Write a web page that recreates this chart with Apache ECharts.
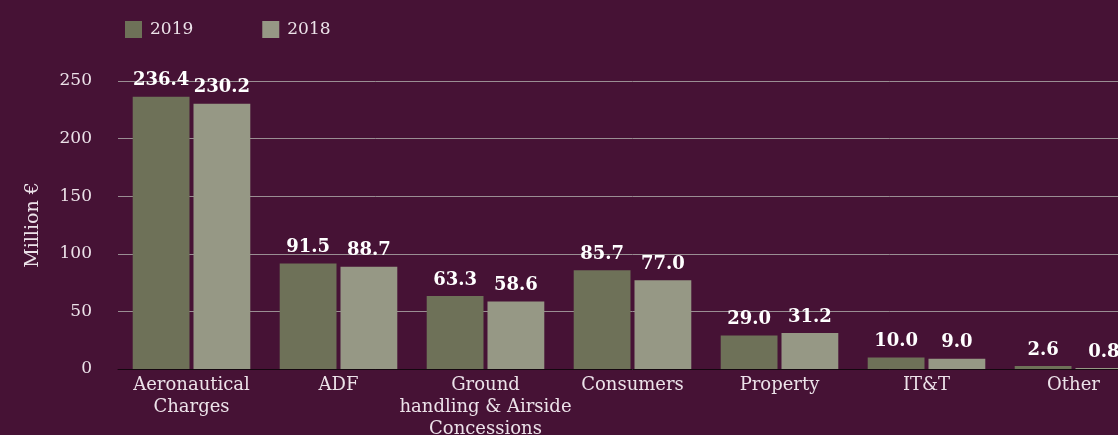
<!DOCTYPE html>
<html>
<head>
<meta charset="utf-8">
<script src="https://cdn.jsdelivr.net/npm/echarts@6/dist/echarts.min.js"></script>
<style>
  html, body { margin: 0; padding: 0; background: #461235; overflow: hidden; }
  /* the plot runs a little past the right edge of the window */
  #chart { width: 1147px; height: 435px; }
</style>
</head>
<body>
<div id="chart"></div>
<script>
// Revenue by business segment, million euro
const categories = [
  'Aeronautical\nCharges',
  'ADF',
  'Ground\nhandling & Airside\nConcessions',
  'Consumers',
  'Property',
  'IT&T',
  'Other'
];
const values2019 = [236.4, 91.5, 63.3, 85.7, 29.0, 10.0, 2.6];
const values2018 = [230.2, 88.7, 58.6, 77.0, 31.2, 9.0, 0.8];
const yTicks = { min: 0, max: 250, interval: 50 };

const FONT = '"DejaVu Serif", serif';
const TEXT = '#ece2e9';

const chart = echarts.init(document.getElementById('chart'));

const valueLabel = {
  show: true,
  position: 'top',
  distance: 7,
  color: '#ffffff',
  fontFamily: FONT,
  fontWeight: 'bold',
  fontSize: 18,
  formatter: p => p.value.toFixed(1)
};

chart.setOption({
  backgroundColor: '#461235',
  animation: false,
  textStyle: { fontFamily: FONT },
  legend: {
    left: 120,
    top: 16,
    itemWidth: 17,
    itemHeight: 17,
    itemGap: 69,
    icon: 'rect',
    textStyle: { color: TEXT, fontFamily: FONT, fontSize: 17, padding: [0, 0, 0, 3] },
    data: ['2019', '2018']
  },
  grid: {
    left: 118, right: 0, top: 81, bottom: 66,
    containLabel: false,
    outerBoundsMode: 'none'
  },
  xAxis: {
    type: 'category',
    data: categories,
    axisLine: { show: true, lineStyle: { color: '#14060f', width: 1 } },
    axisTick: { show: false },
    axisLabel: {
      color: TEXT,
      fontFamily: FONT,
      fontSize: 18,
      lineHeight: 22,
      margin: 5,
      interval: 0
    }
  },
  yAxis: {
    type: 'value',
    min: yTicks.min,
    max: yTicks.max,
    interval: yTicks.interval,
    name: 'Million €',
    nameLocation: 'middle',
    nameGap: 75,
    nameTextStyle: { color: TEXT, fontFamily: FONT, fontSize: 19 },
    axisLine: { show: false },
    axisTick: { show: false },
    axisLabel: { color: TEXT, fontFamily: FONT, fontSize: 17, margin: 26 },
    splitLine: { lineStyle: { color: '#9a8e93', width: 1 } }
  },
  series: [
    {
      name: '2019',
      type: 'bar',
      data: values2019,
      itemStyle: { color: '#6e7158' },
      barCategoryGap: '20%',
      barGap: '7%',
      label: valueLabel
    },
    {
      name: '2018',
      type: 'bar',
      data: values2018,
      itemStyle: { color: '#969885' },
      label: valueLabel
    }
  ]
});
</script>
</body>
</html>
